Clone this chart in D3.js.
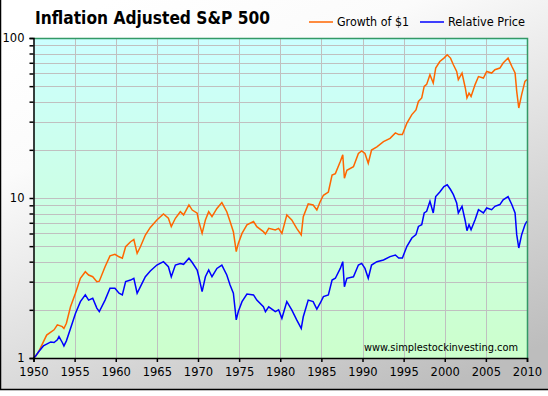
<!DOCTYPE html>
<html>
<head>
<meta charset="utf-8">
<script src="https://d3js.org/d3.v7.min.js"></script>
<style>
  body { margin: 0; background: #fff; }
  text { font-family: "DejaVu Sans", Verdana, sans-serif; }
</style>
</head>
<body>
<div id="visualize"></div>
<script>
// Data (year, growth of $1, relative price)
var years = [1950.0, 1950.2, 1950.6, 1951.2, 1951.6, 1952.1, 1952.5, 1952.9, 1953.1, 1953.5,
  1953.7, 1954.0, 1954.5, 1955.1, 1955.7, 1956.3, 1956.7, 1957.2, 1957.7, 1958.0,
  1958.7, 1959.3, 1959.9, 1960.4, 1960.8, 1961.2, 1961.8, 1962.2, 1962.6, 1963.0,
  1963.6, 1964.2, 1965.0, 1965.8, 1966.4, 1966.75, 1967.25, 1967.85, 1968.25, 1968.9,
  1969.3, 1969.9, 1970.1, 1970.5, 1970.9, 1971.3, 1971.7, 1972.3, 1972.9, 1973.5,
  1973.9, 1974.3, 1974.65, 1974.9, 1975.35, 1975.95, 1976.75, 1977.15, 1977.95, 1978.2,
  1978.6, 1979.4, 1979.8, 1980.2, 1980.8, 1981.4, 1982.0, 1982.55, 1982.8, 1983.4,
  1984.0, 1984.45, 1984.85, 1985.25, 1985.85, 1986.3, 1986.7, 1987.3, 1987.6, 1987.8,
  1988.1, 1988.9, 1989.5, 1989.9, 1990.3, 1990.7, 1991.1, 1991.75, 1992.55, 1993.35,
  1994.0, 1994.4, 1994.85, 1995.4, 1996.0, 1996.5, 1996.8, 1997.2, 1997.5, 1997.8,
  1998.2, 1998.6, 1998.9, 1999.4, 1999.9, 2000.3, 2000.7, 2001.05, 2001.45, 2001.65,
  2002.1, 2002.5, 2002.7, 2002.95, 2003.2, 2003.7, 2004.1, 2004.7, 2005.1, 2005.7,
  2006.1, 2006.7, 2007.1, 2007.7, 2008.15, 2008.55, 2008.75, 2009.0, 2009.35, 2009.75,
  2010.0];

var growth = [1.0, 1.02, 1.09, 1.26, 1.39, 1.45, 1.50, 1.61, 1.60, 1.57,
  1.53, 1.65, 2.09, 2.54, 3.15, 3.46, 3.30, 3.22, 3.00, 3.02,
  3.72, 4.35, 4.45, 4.29, 4.20, 4.96, 5.33, 5.50, 4.51, 4.96,
  5.87, 6.55, 7.29, 7.94, 7.47, 6.62, 7.47, 8.21, 7.84, 9.05,
  8.41, 8.03, 7.13, 6.01, 7.29, 8.21, 7.64, 8.60, 9.36, 8.21,
  7.13, 6.16, 4.62, 5.20, 6.01, 6.79, 7.13, 6.62, 6.16, 5.95,
  6.46, 6.32, 6.46, 6.01, 7.84, 7.29, 6.46, 5.87, 7.64, 9.19,
  9.05, 8.41, 9.48, 10.4, 10.9, 13.9, 14.2, 16.9, 18.6, 13.3,
  14.9, 15.7, 19.0, 19.7, 19.0, 16.5, 19.95, 20.9, 22.5, 23.6,
  25.5, 24.9, 24.9, 29.4, 33.2, 35.5, 40.1, 42.2, 49.8, 51.3,
  58.9, 52.3, 64.9, 71.3, 74.9, 78.6, 74.9, 68.0, 61.8, 55.0,
  60.4, 48.7, 42.2, 45.2, 43.1, 51.3, 57.4, 56.2, 61.8, 60.4,
  63.4, 64.9, 69.8, 74.9, 66.6, 60.4, 46.4, 36.5, 44.3, 53.6,
  55.0];

var relative = [1.0, 1.02, 1.09, 1.19, 1.22, 1.26, 1.25, 1.30, 1.36, 1.25,
  1.19, 1.28, 1.53, 1.90, 2.25, 2.48, 2.30, 2.36, 2.05, 1.95,
  2.30, 2.73, 2.73, 2.54, 2.48, 3.00, 3.07, 3.15, 2.54, 2.79,
  3.22, 3.50, 3.81, 4.00, 3.72, 3.22, 3.81, 3.90, 3.85, 4.20,
  3.95, 3.55, 3.22, 2.60, 3.22, 3.55, 3.22, 3.63, 3.81, 3.30,
  2.86, 2.54, 1.73, 1.95, 2.25, 2.51, 2.48, 2.30, 2.09, 1.95,
  2.09, 1.95, 2.00, 1.77, 2.25, 2.00, 1.73, 1.53, 1.81, 2.30,
  2.25, 2.02, 2.20, 2.42, 2.48, 3.07, 3.15, 3.63, 4.00, 2.79,
  3.15, 3.22, 3.81, 3.90, 3.63, 3.15, 3.81, 4.00, 4.10, 4.30,
  4.40, 4.22, 4.22, 4.99, 5.62, 5.90, 6.64, 6.81, 8.06, 8.26,
  9.53, 8.06, 10.2, 10.9, 11.8, 12.1, 11.3, 10.5, 9.30, 8.06,
  8.87, 7.16, 6.25, 6.81, 6.33, 7.33, 8.45, 8.06, 8.66, 8.45,
  8.87, 9.10, 9.75, 10.2, 9.10, 8.06, 5.90, 4.87, 5.90, 6.81,
  7.16];

var xTickYears = [1950, 1955, 1960, 1965, 1970, 1975, 1980, 1985, 1990, 1995, 2000, 2005, 2010];
var yTickLabels = [1, 10, 100];
var seriesNames = ["Growth of $1", "Relative Price"];

// Draw chart
function drawChart() {

  var W = 548, H = 396;
  var left = 33.5, right = 527, top = 38, bottom = 358;

  var svg = d3.select("#visualize").append("svg")
      .attr("width", W)
      .attr("height", H);

  var defs = svg.append("defs");

  var frameGrad = defs.append("linearGradient")
      .attr("id", "frameGrad")
      .attr("x1", "0.2").attr("y1", "0")
      .attr("x2", "0.8").attr("y2", "1");
  frameGrad.append("stop").attr("offset", "0").attr("stop-color", "#ffffff");
  frameGrad.append("stop").attr("offset", "0.25").attr("stop-color", "#fbfbfb");
  frameGrad.append("stop").attr("offset", "1").attr("stop-color", "#bdbdbd");

  var plotGrad = defs.append("linearGradient")
      .attr("id", "plotGrad")
      .attr("x1", "0").attr("y1", "0")
      .attr("x2", "0").attr("y2", "1");
  plotGrad.append("stop").attr("offset", "0").attr("stop-color", "#ccffff");
  plotGrad.append("stop").attr("offset", "1").attr("stop-color", "#ccffcc");

  // Outer frame
  svg.append("rect")
      .attr("x", 0).attr("y", 0)
      .attr("width", W).attr("height", 390)
      .attr("fill", "url(#frameGrad)");

  svg.append("line")
      .attr("x1", 0.5).attr("x2", 0.5)
      .attr("y1", 0).attr("y2", 390)
      .attr("stroke", "#000").attr("stroke-width", 1.5);
  svg.append("line")
      .attr("x1", 0).attr("x2", W)
      .attr("y1", 389.5).attr("y2", 389.5)
      .attr("stroke", "#000").attr("stroke-width", 1.5);

  var x = d3.scaleLinear()
      .domain([1950, 2010])
      .range([left, right]);

  var y = d3.scaleLog()
      .domain([1, 100])
      .range([bottom, top]);

  // Plot background
  svg.append("rect")
      .attr("x", left).attr("y", top)
      .attr("width", right - left).attr("height", bottom - top)
      .attr("fill", "url(#plotGrad)");

  // Grid lines
  var minorTicks = y.ticks().filter(function(d) { return d > 1 && d < 100; });

  svg.append("g")
    .selectAll("line")
      .data(minorTicks)
    .enter().append("line")
      .attr("x1", left).attr("x2", right)
      .attr("y1", function(d) { return Math.round(y(d)) + 0.5; })
      .attr("y2", function(d) { return Math.round(y(d)) + 0.5; })
      .attr("stroke", "#c0c0c0");

  svg.append("g")
    .selectAll("line")
      .data(xTickYears.slice(1, -1))
    .enter().append("line")
      .attr("x1", function(d) { return Math.round(x(d)) + 0.5; })
      .attr("x2", function(d) { return Math.round(x(d)) + 0.5; })
      .attr("y1", top).attr("y2", bottom)
      .attr("stroke", "#c0c0c0");

  // Series lines
  var growthLine = d3.line()
      .x(function(d, i) { return x(years[i]); })
      .y(function(d) { return y(d); });

  svg.append("path")
      .datum(growth)
      .attr("d", growthLine)
      .attr("fill", "none")
      .attr("stroke", "#ff6600")
      .attr("stroke-width", 1.5);

  svg.append("path")
      .datum(relative)
      .attr("d", growthLine)
      .attr("fill", "none")
      .attr("stroke", "#0000ff")
      .attr("stroke-width", 1.5);

  // Plot border: green top / right, black axes
  svg.append("path")
      .attr("d", "M" + left + "," + (top + 0.5) + "H" + (right + 0.5) + "V" + bottom)
      .attr("fill", "none")
      .attr("stroke", "#339966")
      .attr("stroke-width", 1.5);

  var xAxis = d3.axisBottom(x)
      .tickValues(xTickYears)
      .tickSize(4)
      .tickFormat(d3.format("d"));

  var yAxis = d3.axisLeft(y)
      .tickValues(y.ticks())
      .tickSize(4)
      .tickFormat(function(d) { return yTickLabels.indexOf(d) >= 0 ? d : ""; });

  var gx = svg.append("g")
      .attr("transform", "translate(0," + bottom + ")")
      .call(xAxis);
  gx.select(".domain").attr("stroke-width", 1.5);
  gx.selectAll(".tick line").attr("stroke-width", 1.5);
  gx.selectAll("text")
      .attr("y", 10)
      .attr("font-size", 11.5)
      .attr("font-family", "DejaVu Sans, Verdana, sans-serif")
      .attr("fill", "#000");

  var gy = svg.append("g")
      .attr("transform", "translate(" + left + ",0)")
      .call(yAxis);
  gy.select(".domain").attr("stroke-width", 1.5);
  gy.selectAll(".tick line").attr("stroke-width", 1.5);
  gy.selectAll("text")
      .attr("x", -9)
      .attr("font-size", 11.5)
      .attr("font-family", "DejaVu Sans, Verdana, sans-serif")
      .attr("fill", "#000");

  // Title
  svg.append("text")
      .attr("x", 35)
      .attr("y", 24)
      .attr("font-size", 18.5)
      .attr("font-weight", "bold")
      .attr("textLength", 235)
      .attr("lengthAdjust", "spacingAndGlyphs")
      .text("Inflation Adjusted S&P 500");

  // Legend
  var legendColors = ["#ff6600", "#0000ff"];
  var legendX = [309, 420];
  var legendW = [72, 77];

  var legend = svg.selectAll(".legend")
      .data(seriesNames)
    .enter().append("g")
      .attr("class", "legend")
      .attr("transform", function(d, i) { return "translate(" + legendX[i] + ",22)"; });

  legend.append("line")
      .attr("x1", 0).attr("x2", 24)
      .attr("stroke", function(d, i) { return legendColors[i]; })
      .attr("stroke-width", 1.5);

  legend.append("text")
      .attr("x", 28)
      .attr("y", 4)
      .attr("font-size", 11.5)
      .attr("textLength", function(d, i) { return legendW[i]; })
      .attr("lengthAdjust", "spacingAndGlyphs")
      .text(function(d) { return d; });

  // Watermark
  svg.append("text")
      .attr("x", 364)
      .attr("y", 351)
      .attr("font-size", 11)
      .attr("font-family", "Liberation Sans, Arial, sans-serif")
      .attr("textLength", 154)
      .attr("lengthAdjust", "spacingAndGlyphs")
      .text("www.simplestockinvesting.com");
}

drawChart();
</script>
</body>
</html>
